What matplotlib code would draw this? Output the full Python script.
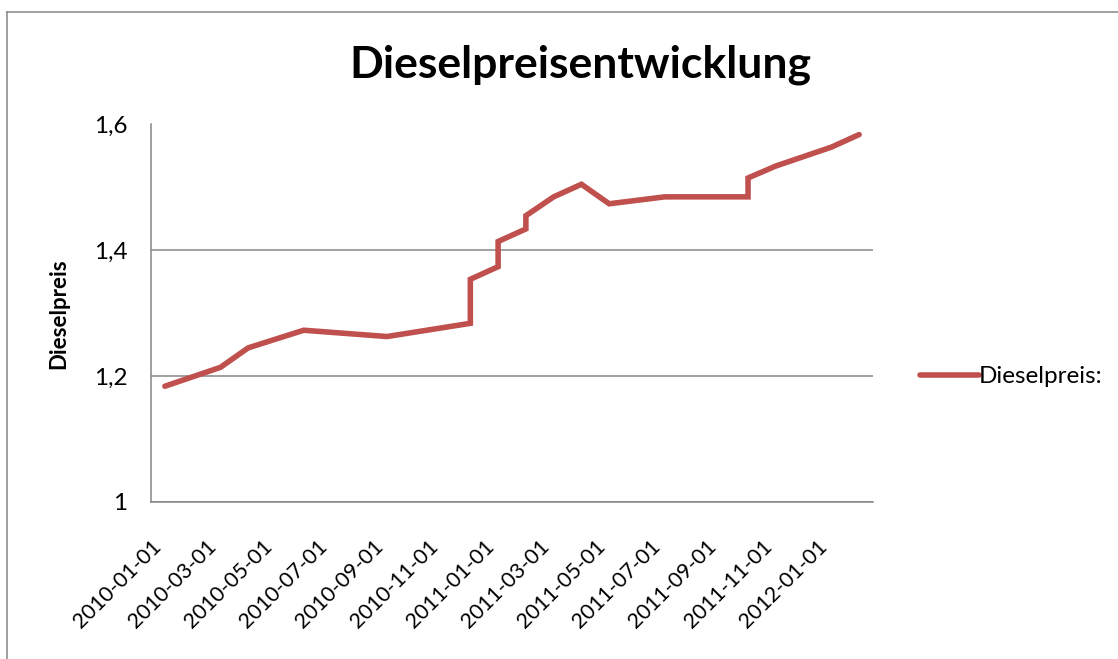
import pandas as pd
import matplotlib.pyplot as plt
from matplotlib.lines import Line2D

dates = ['2010-01-01', '2010-03-01', '2010-04-01', '2010-06-01', '2010-09-01',
         '2010-12-01', '2010-12-15', '2011-01-01', '2011-01-15', '2011-02-01',
         '2011-02-15', '2011-03-01', '2011-04-01', '2011-05-01', '2011-07-01',
         '2011-10-01', '2011-10-15', '2011-11-01', '2012-01-01', '2012-02-01']
preis = [1.184, 1.214, 1.245, 1.273, 1.263,
         1.284, 1.354, 1.374, 1.414, 1.434,
         1.455, 1.485, 1.505, 1.474, 1.485,
         1.485, 1.515, 1.534, 1.564, 1.584]
tick_labels = ['2010-01-01', '2010-03-01', '2010-05-01', '2010-07-01', '2010-09-01',
               '2010-11-01', '2011-01-01', '2011-03-01', '2011-05-01', '2011-07-01',
               '2011-09-01', '2011-11-01', '2012-01-01']
y_ticks = [1.0, 1.2, 1.4, 1.6]
y_labels = ['1', '1,2', '1,4', '1,6']

plt.rcParams['font.family'] = ['Lato', 'DejaVu Sans']

# Excel date axis with base unit month: dates in same month share x
d = pd.to_datetime(dates)
start = pd.Timestamp(dates[0])
months = (d.year - start.year) * 12 + (d.month - start.month)
t = pd.to_datetime(tick_labels)
tick_pos = (t.year - start.year) * 12 + (t.month - start.month)

fig = plt.figure(figsize=(11.18, 6.59), dpi=100)
ax = fig.add_axes([151/1118, 1 - 502/659, (873-151)/1118, (502-124.5)/659])

red = '#C0504D'
grey = '#868686'
ax.plot(months, preis, color=red, lw=4, solid_capstyle='round', solid_joinstyle='miter',
        label='Dieselpreis:')

ax.set_xlim(-0.5, months.max() + 0.5)
ax.set_ylim(1.0, 1.6)
ax.set_yticks(y_ticks)
ax.set_yticklabels(y_labels, fontsize=17.5)
ax.set_xticks(tick_pos)
ax.set_xticklabels(tick_labels, rotation=45, ha='right', va='top', fontsize=15.5)
ax.tick_params(axis='y', length=0, pad=17)
ax.tick_params(axis='x', length=0, pad=25)
ax.yaxis.grid(True, color=grey, lw=1.1)
ax.set_axisbelow(True)
for s in ['top', 'right']:
    ax.spines[s].set_visible(False)
for s in ['left', 'bottom']:
    ax.spines[s].set_color(grey)
    ax.spines[s].set_linewidth(1.1)

ax.set_ylabel('Dieselpreis', fontsize=16, fontweight='bold', labelpad=18)
fig.text(0.519, 0.902, 'Dieselpreisentwicklung', fontsize=32, fontweight='bold',
         ha='center', va='center')

handle = Line2D([], [], color=red, lw=4, solid_capstyle='round')
fig.legend([handle], ['Dieselpreis:'], loc='center left', bbox_to_anchor=(0.8145, 0.428),
           frameon=False, fontsize=17.5, handlelength=2.4, handletextpad=0.0, borderaxespad=0)

# outer chart-area border (left and top visible)
fig.add_artist(Line2D([7/1118, 7/1118], [0, 1 - 12/659], color=grey, lw=1.1,
                      transform=fig.transFigure))
fig.add_artist(Line2D([7/1118, 1], [1 - 12/659, 1 - 12/659], color=grey, lw=1.1,
                      transform=fig.transFigure))

fig.savefig('out.png', dpi=100)
